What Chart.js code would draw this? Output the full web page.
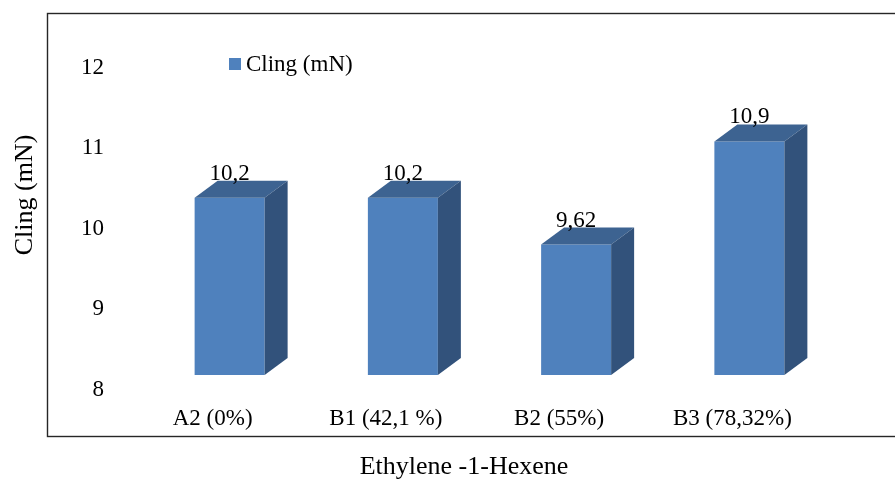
<!DOCTYPE html>
<html>
<head>
<meta charset="utf-8">
<script src="https://cdn.jsdelivr.net/npm/chart.js@4.4.1/dist/chart.umd.min.js"></script>
<style>
  html, body { margin: 0; padding: 0; background: #fff; }
  #wrap { width: 895px; height: 479px; }
</style>
</head>
<body>
<div id="wrap"><canvas id="cling" width="895" height="479"></canvas></div>
<script>
// cling per sample
const samples = ['A2 (0%)', 'B1 (42,1 %)', 'B2 (55%)', 'B3 (78,32%)'];
const cling = [10.2, 10.2, 9.62, 10.9];
const yTicks = [8, 9, 10, 11, 12];

const serif = "'Times New Roman', 'Liberation Serif', serif";
const front = '#4F81BD';
const topFace = '#3D6391';
const sideFace = '#32527B';
const depthX = 23, depthY = 17;

// fake 3d: top + side faces on every bar, value labels, legend, titles, frame
const box3d = {
    id: 'box3d',
    beforeDraw(chart) {
        const c = chart.ctx;
        c.save();
        c.strokeStyle = '#262626';
        c.lineWidth = 1.4;
        c.strokeRect(47.5, 13.5, 900, 423);
        c.restore();
    },
    afterDatasetsDraw(chart) {
        const c = chart.ctx;
        const ds = chart.data.datasets[0];
        const meta = chart.getDatasetMeta(0);
        const floor = chart.scales.y.getPixelForValue(chart.scales.y.min);
        c.save();
        meta.data.forEach((bar, i) => {
            const p = bar.getProps(['x', 'y', 'width'], true);
            const x1 = p.x - p.width / 2, x2 = p.x + p.width / 2;
            // top
            c.fillStyle = topFace;
            c.beginPath();
            c.moveTo(x1, p.y);
            c.lineTo(x2, p.y);
            c.lineTo(x2 + depthX, p.y - depthY);
            c.lineTo(x1 + depthX, p.y - depthY);
            c.closePath();
            c.fill();
            // side
            c.fillStyle = sideFace;
            c.beginPath();
            c.moveTo(x2, p.y);
            c.lineTo(x2 + depthX, p.y - depthY);
            c.lineTo(x2 + depthX, floor - depthY);
            c.lineTo(x2, floor);
            c.closePath();
            c.fill();
            // value
            c.fillStyle = '#000';
            c.font = '23px ' + serif;
            c.textAlign = 'center';
            c.textBaseline = 'middle';
            c.fillText(String(ds.data[i]).replace('.', ','), p.x, p.y - 24);
        });

        // legend
        c.fillStyle = front;
        c.fillRect(229, 58, 12, 12);
        c.fillStyle = '#000';
        c.font = '23px ' + serif;
        c.textAlign = 'left';
        c.textBaseline = 'middle';
        c.fillText(ds.label, 246, 65);

        // axis titles
        c.font = '26px ' + serif;
        c.textAlign = 'center';
        c.fillText('Ethylene -1-Hexene', 464, 467);
        c.translate(25, 195);
        c.rotate(-Math.PI / 2);
        c.fillText('Cling (mN)', 0, 0);
        c.restore();
    }
};

const ctx = document.getElementById('cling').getContext('2d');
const chart = new Chart(ctx, {
    type: 'bar',
    data: {
        labels: samples,
        datasets: [{
            label: 'Cling (mN)',
            data: cling,
            backgroundColor: front,
            borderWidth: 0,
            barPercentage: 0.404,
            categoryPercentage: 1
        }]
    },
    options: {
        responsive: false,
        animation: false,
        layout: { padding: { left: 0, top: 51, right: 59, bottom: 0 } },
        plugins: {
            legend: { display: false },
            tooltip: { enabled: false }
        },
        scales: {
            x: {
                grid: { display: false, drawTicks: false },
                border: { display: false },
                ticks: {
                    color: '#000',
                    font: { family: serif, size: 23 },
                    padding: 30,
                    labelOffset: -17,
                    maxRotation: 0
                },
                afterFit: (s) => { s.height = 104; }
            },
            y: {
                min: 8,
                max: 12,
                grid: { display: false, drawTicks: false },
                border: { display: false },
                afterBuildTicks: (s) => { s.ticks = yTicks.map(v => ({ value: v })); },
                ticks: {
                    color: '#000',
                    font: { family: serif, size: 23 },
                    padding: 39,
                    labelOffset: 15
                },
                afterFit: (s) => { s.width = 143; }
            }
        }
    },
    plugins: [box3d]
});
</script>
</body>
</html>
